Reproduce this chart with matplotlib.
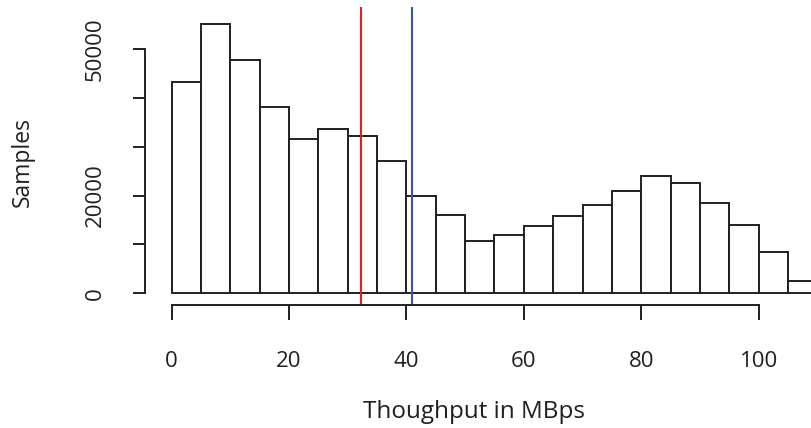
import numpy as np
import matplotlib
matplotlib.use("Agg")
import matplotlib.pyplot as plt

# histogram of throughput samples, 5 MBps bins
bin_edges = [0, 5, 10, 15, 20, 25, 30, 35, 40, 45, 50, 55, 60, 65, 70, 75,
             80, 85, 90, 95, 100, 105, 110]
counts = [43200, 55100, 47800, 38000, 31600, 33700, 32100, 27000, 19950, 16000,
          10800, 11900, 13700, 15900, 18000, 20900, 24000, 22500, 18400, 14000,
          8500, 2500]
median_tp = 32.3
mean_tp = 40.9

x_ticks = [0, 20, 40, 60, 80, 100]
y_ticks = [0, 10000, 20000, 30000, 40000, 50000]
y_ticklabels = ['0', '', '20000', '', '', '50000']

ink = '#231f20'
plt.rcParams['font.family'] = ['Open Sans', 'DejaVu Sans']
plt.rcParams['font.size'] = 16

fig = plt.figure(figsize=(8.12, 4.28), dpi=100)
W, H = 812, 428
ax = fig.add_axes([145 / W, (H - 305) / H, 640 / W, 298 / H])

lefts = np.array(bin_edges[:-1])
widths = np.diff(bin_edges)
bars = ax.bar(lefts, counts, width=widths, align='edge', facecolor='white',
              edgecolor=ink, linewidth=1.4)
for b in bars:
    b.set_clip_on(False)

ax.axvline(median_tp, color='#e31e24', linewidth=1.5)
ax.axvline(mean_tp, color='#3a53a4', linewidth=1.5)

ax.set_xlim(-4.55, 104.5)
ax.set_ylim(-2390, 58550)

for s in ['top', 'right']:
    ax.spines[s].set_visible(False)
ax.spines['left'].set_bounds(0, 50000)
ax.spines['bottom'].set_bounds(0, 100)
for s in ['left', 'bottom']:
    ax.spines[s].set_color(ink)
    ax.spines[s].set_linewidth(1.4)

ax.set_xticks(x_ticks)
ax.set_yticks(y_ticks)
ax.set_yticklabels(y_ticklabels, rotation=90, va='center')
ax.tick_params(axis='x', direction='out', length=11, width=1.4, color=ink,
               labelcolor=ink, pad=22)
ax.tick_params(axis='y', direction='out', length=9, width=1.4, color=ink,
               labelcolor=ink, pad=19)

fig.text(474 / W, (H - 418) / H, 'Thoughput in MBps', ha='center',
         va='baseline', color=ink, fontsize=17.5)
fig.text(23 / W, (H - 162) / H, 'Samples', ha='center', va='center',
         rotation=90, color=ink, fontsize=16.5)

fig.savefig('out.png', dpi=100)
